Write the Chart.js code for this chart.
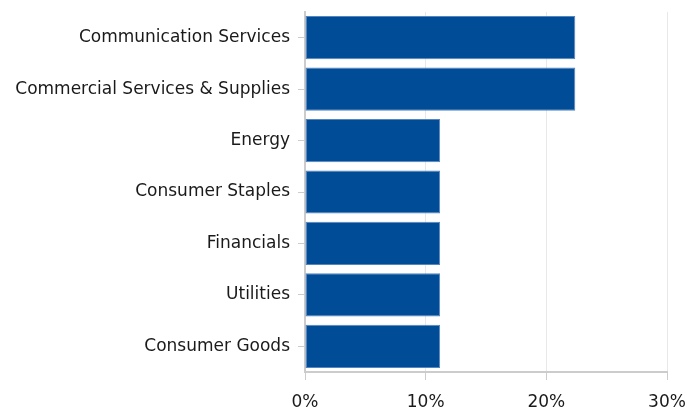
<!DOCTYPE html>
<html>
<head>
<meta charset="utf-8">
<script src="https://cdn.jsdelivr.net/npm/chart.js@4/dist/chart.umd.min.js"></script>
<style>
  html, body { margin: 0; padding: 0; background: #fff; }
  #wrap { width: 687px; height: 407px; }
</style>
</head>
<body>
<div id="wrap"><canvas id="sectorChart"></canvas></div>
<script>
// Chart data
const categories = [
    'Communication Services',
    'Commercial Services & Supplies',
    'Energy',
    'Consumer Staples',
    'Financials',
    'Utilities',
    'Consumer Goods'
];
const weights = [22.4, 22.4, 11.2, 11.2, 11.2, 11.2, 11.2];
const xTicks = [0, 10, 20, 30];

document.addEventListener('DOMContentLoaded', () => {
    const ctx = document.getElementById('sectorChart');
    new Chart(ctx, {
        type: 'bar',
        data: {
            labels: categories,
            datasets: [{
                data: weights,
                backgroundColor: '#004c97',
                borderColor: '#5585c0',
                borderWidth: 1,
                borderSkipped: false,
                barPercentage: 0.84,
                categoryPercentage: 1
            }]
        },
        options: {
            indexAxis: 'y',
            responsive: true,
            maintainAspectRatio: false,
            animation: false,
            layout: { padding: { top: 12, right: 20, bottom: 0, left: 0 } },
            plugins: {
                legend: { display: false },
                tooltip: { enabled: false }
            },
            scales: {
                x: {
                    min: xTicks[0],
                    max: xTicks[xTicks.length - 1],
                    afterBuildTicks: (axis) => {
                        axis.ticks = xTicks.map(v => ({ value: v }));
                    },
                    afterFit: (axis) => {
                        axis.height = 35;
                        axis.paddingLeft = 0;
                        axis.paddingRight = 0;
                    },
                    grid: {
                        color: '#e8e8e8',
                        tickColor: '#cccccc',
                        tickLength: 8
                    },
                    border: { color: '#cccccc', width: 2 },
                    ticks: {
                        color: '#1a1a1a',
                        font: { family: 'DejaVu Sans', size: 17 },
                        padding: 12,
                        maxRotation: 0,
                        callback: (v) => v + '%'
                    }
                },
                y: {
                    afterFit: (axis) => {
                        axis.width = 305;
                        axis.paddingTop = 0;
                        axis.paddingBottom = 0;
                    },
                    grid: {
                        offset: false,
                        drawOnChartArea: false,
                        tickColor: '#cccccc',
                        tickLength: 7
                    },
                    border: { color: '#cccccc', width: 2 },
                    ticks: {
                        color: '#1a1a1a',
                        font: { family: 'DejaVu Sans', size: 17 },
                        padding: 8
                    }
                }
            }
        }
    });
});
</script>
</body>
</html>
